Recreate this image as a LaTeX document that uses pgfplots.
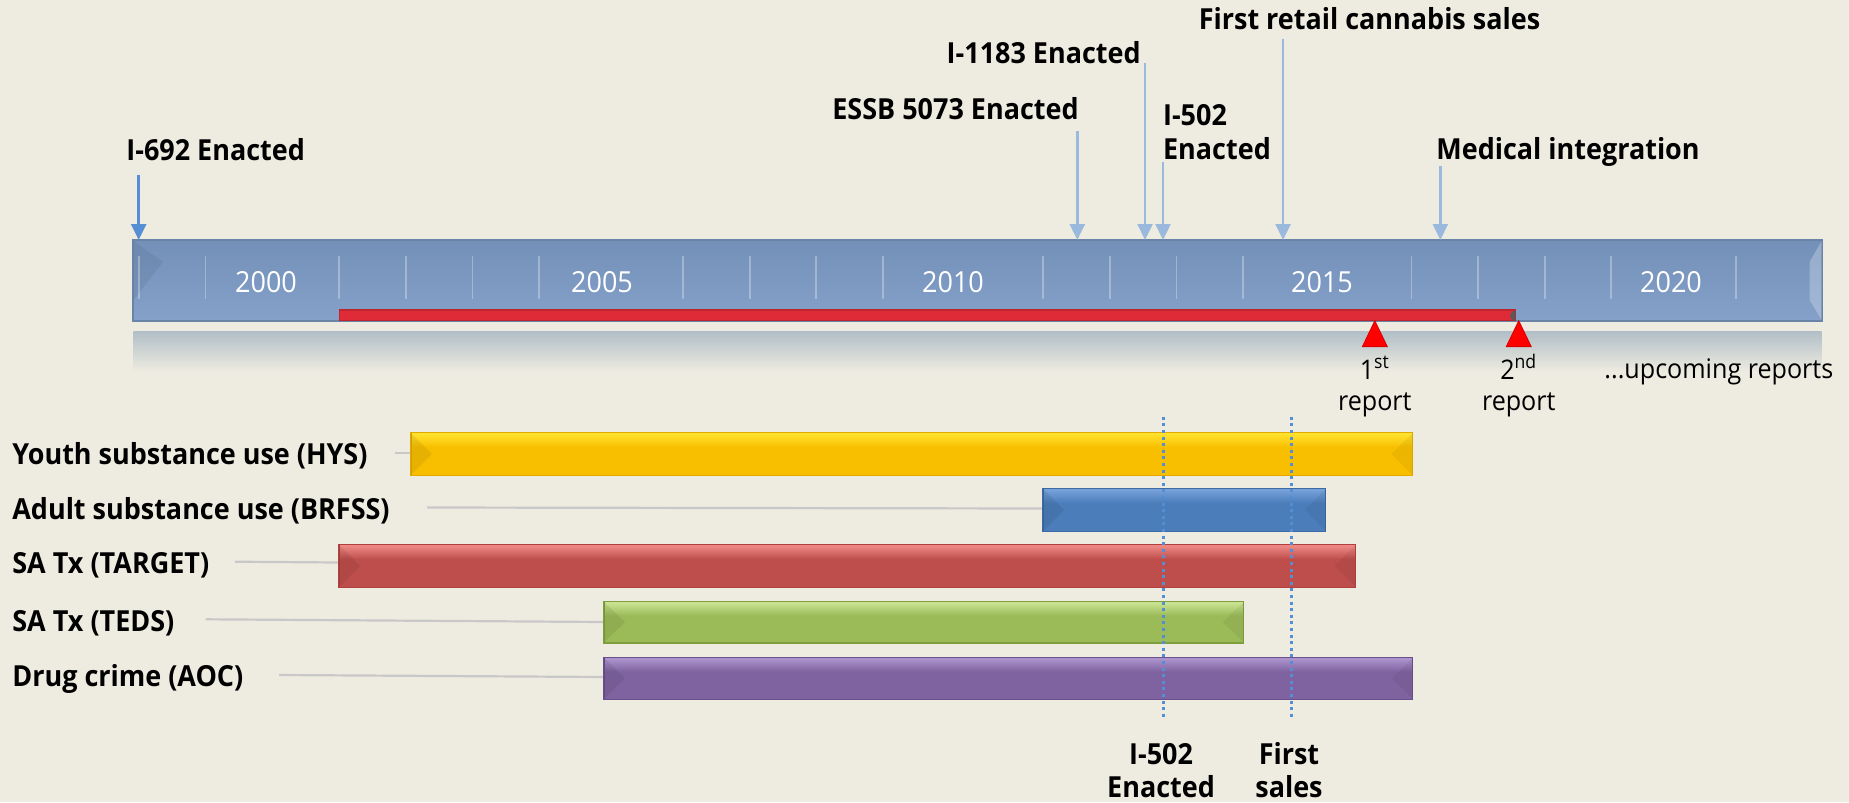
\documentclass[border=0pt]{standalone}
\usepackage{fontspec}
\setmainfont{Open Sans}[FakeStretch=0.93]
\usepackage{pgfplots}
\pgfplotsset{compat=1.18}
\usetikzlibrary{arrows.meta}

\definecolor{bgcol}{HTML}{EEECE1}
\definecolor{tltop}{HTML}{7390B8}
\definecolor{tlbot}{HTML}{85A1C9}
\definecolor{tledge}{HTML}{6A84A8}
\definecolor{reftop}{HTML}{B2BFC7}
\definecolor{redline}{HTML}{DE2B37}
\definecolor{evarrow}{HTML}{9BB9DC}
\definecolor{evdark}{HTML}{558ED5}
\definecolor{conn}{HTML}{C8C8C8}
\definecolor{dotcol}{HTML}{558ED5}
% bar colours: body, highlight, edge
\definecolor{hysB}{HTML}{F8BF00}\definecolor{hysL}{HTML}{FFE12E}\definecolor{hysE}{HTML}{E2AA00}
\definecolor{brfB}{HTML}{4B7DBB}\definecolor{brfL}{HTML}{75A0D8}\definecolor{brfE}{HTML}{3D6AA3}
\definecolor{tgtB}{HTML}{BE4E4B}\definecolor{tgtL}{HTML}{EC8784}\definecolor{tgtE}{HTML}{B2403D}
\definecolor{tedB}{HTML}{9BBB59}\definecolor{tedL}{HTML}{C8E290}\definecolor{tedE}{HTML}{7F9F3E}
\definecolor{aocB}{HTML}{7F63A0}\definecolor{aocL}{HTML}{AA92CC}\definecolor{aocE}{HTML}{6A4F8D}

\pgfdeclareverticalshading{hysS}{100bp}{color(0bp)=(hysB); color(58bp)=(hysB); color(73bp)=(hysL); color(100bp)=(hysL)}
\pgfdeclareverticalshading{brfS}{100bp}{color(0bp)=(brfB); color(58bp)=(brfB); color(73bp)=(brfL); color(100bp)=(brfL)}
\pgfdeclareverticalshading{tgtS}{100bp}{color(0bp)=(tgtB); color(58bp)=(tgtB); color(73bp)=(tgtL); color(100bp)=(tgtL)}
\pgfdeclareverticalshading{tedS}{100bp}{color(0bp)=(tedB); color(58bp)=(tedB); color(73bp)=(tedL); color(100bp)=(tedL)}
\pgfdeclareverticalshading{aocS}{100bp}{color(0bp)=(aocB); color(58bp)=(aocB); color(73bp)=(aocL); color(100bp)=(aocL)}

\newcommand\lbl{\fontsize{14.5}{17}\selectfont\bfseries}
\newcommand\yr{\fontsize{14.5}{17}\selectfont}
\newcommand\rep{\fontsize{13.5}{16}\selectfont}
% bevel facets at both ends of a bar: start, end, top, bottom
\newcommand\bevel[4]{%
  \fill[black, opacity=0.07] (axis cs:#1,#3) -- (axis cs:#1+0.3,#3/2+#4/2) -- (axis cs:#1,#4) -- cycle;
  \fill[black, opacity=0.05] (axis cs:#2,#3) -- (axis cs:#2-0.3,#3/2+#4/2) -- (axis cs:#2,#4) -- cycle;}

\begin{document}
\begin{tikzpicture}[every node/.style={inner sep=0pt}]
\begin{axis}[
    scale only axis,
    width=924.5pt, height=401pt,
    xmin=1996.2, xmax=2022.614,
    ymin=0, ymax=802, y dir=reverse,
    axis lines=none, xtick=\empty, ytick=\empty,
    clip=false,
    evt/.style={mark=none, evarrow, line width=1.2pt, -{Triangle[width=7.5pt,length=8pt]}},
]
% background
\fill[bgcol] (rel axis cs:0,0) rectangle (rel axis cs:1,1);

% timeline bar and its reflection
\fill[top color=reftop, bottom color=bgcol] (axis cs:1998.104,331.7) rectangle (axis cs:2022.224,372);
\addplot[mark=none, draw=tledge, line width=0.8pt, top color=tltop, bottom color=tlbot]
    coordinates {(1998.104,240) (2022.224,240) (2022.224,320.7) (1998.104,320.7)} -- cycle;
\fill[tltop!80!black, opacity=0.25] (axis cs:1998.104,241) -- (axis cs:1998.53,262) -- (axis cs:1998.104,300) -- cycle;
\fill[white, opacity=0.25] (axis cs:2022.224,241) -- (axis cs:2022.05,262) -- (axis cs:2022.05,300) -- (axis cs:2022.224,320) -- cycle;

% year dividers
\pgfplotsinvokeforeach{1998.186,1999.136,2001.047,2001.999,2002.949,2003.900,2005.957,2006.910,2007.857,2008.811,2011.100,2012.057,2013.007,2013.957,2016.364,2017.314,2018.266,2019.214,2021.000}{
  \addplot[mark=none, white, opacity=0.3, line width=0.9pt] coordinates {(#1,256) (#1,299)};
}
\node[anchor=base, white, font=\yr] at (axis cs:2000.0,292.7) {2000};
\node[anchor=base, white, font=\yr] at (axis cs:2004.8,292.7) {2005};
\node[anchor=base, white, font=\yr] at (axis cs:2009.814,292.7) {2010};
\node[anchor=base, white, font=\yr] at (axis cs:2015.086,292.7) {2015};
\node[anchor=base, white, font=\yr] at (axis cs:2020.071,292.7) {2020};

% study period and reports
\addplot[mark=none, draw=redline!85!black, line width=0.6pt, fill=redline]
    coordinates {(2001.047,310) (2017.847,310) (2017.847,320.7) (2001.047,320.7)} -- cycle;
\fill[black!65] (axis cs:2017.847,310.5) arc[start angle=90, end angle=270, radius=2.6pt] -- cycle;
\addplot[only marks, mark=triangle*, mark size=7.2pt,
    mark options={fill=red, draw=red!85!black, yscale=1.2}]
    coordinates {(2015.84,338) (2017.896,338)};
\node[anchor=base, font=\rep] at (axis cs:2015.84,379.3) {1\textsuperscript{st}};
\node[anchor=base, font=\rep] at (axis cs:2015.84,410) {report};
\node[anchor=base, font=\rep] at (axis cs:2017.896,379.3) {2\textsuperscript{nd}};
\node[anchor=base, font=\rep] at (axis cs:2017.896,410) {report};
\node[anchor=base west, font=\rep] at (axis cs:2019.114,378) {...upcoming reports};

% policy events
\addplot[evt, evdark] coordinates {(1998.181,175) (1998.181,240)};
\addplot[evt] coordinates {(2011.590,131) (2011.590,240)};
\addplot[evt] coordinates {(2012.557,63.3) (2012.557,240)};
\addplot[evt] coordinates {(2012.814,161.7) (2012.814,240)};
\addplot[evt] coordinates {(2014.529,39) (2014.529,240)};
\addplot[evt] coordinates {(2016.776,165.7) (2016.776,240)};
\node[anchor=base west, font=\lbl] at (axis cs:1998.0,160.7) {I-692 Enacted};
\node[anchor=base east, font=\lbl] at (axis cs:2011.614,120) {ESSB 5073 Enacted};
\node[anchor=base east, font=\lbl] at (axis cs:2012.5,63.3) {I-1183 Enacted};
\node[anchor=base west, font=\lbl] at (axis cs:2012.81,126) {I-502};
\node[anchor=base west, font=\lbl] at (axis cs:2012.81,160) {Enacted};
\node[anchor=base west, font=\lbl] at (axis cs:2013.32,30) {First retail cannabis sales};
\node[anchor=base west, font=\lbl] at (axis cs:2016.714,160) {Medical integration};

% leader lines from the data source labels
\addplot[mark=none, conn, line width=1.1pt] coordinates {(2001.843,453.3) (2002.071,453.3)};
\addplot[mark=none, conn, line width=1.1pt] coordinates {(2002.300,507.5) (2011.100,508.5)};
\addplot[mark=none, conn, line width=1.1pt] coordinates {(1999.557,561.7) (2001.043,562.5)};
\addplot[mark=none, conn, line width=1.1pt] coordinates {(1999.139,619.3) (2004.829,622)};
\addplot[mark=none, conn, line width=1.1pt] coordinates {(2000.186,675) (2004.829,677)};

% data coverage bars
\addplot[mark=none, draw=hysE, line width=0.6pt, shade, shading=hysS]
    coordinates {(2002.071,432.3) (2016.381,432.3) (2016.381,475.7) (2002.071,475.7)} -- cycle;
\addplot[mark=none, draw=brfE, line width=0.6pt, shade, shading=brfS]
    coordinates {(2011.100,488.3) (2015.139,488.3) (2015.139,531.7) (2011.100,531.7)} -- cycle;
\addplot[mark=none, draw=tgtE, line width=0.6pt, shade, shading=tgtS]
    coordinates {(2001.043,544.3) (2015.567,544.3) (2015.567,587.7) (2001.043,587.7)} -- cycle;
\addplot[mark=none, draw=tedE, line width=0.6pt, shade, shading=tedS]
    coordinates {(2004.829,601.3) (2013.967,601.3) (2013.967,643) (2004.829,643)} -- cycle;
\addplot[mark=none, draw=aocE, line width=0.6pt, shade, shading=aocS]
    coordinates {(2004.829,657.3) (2016.381,657.3) (2016.381,699.3) (2004.829,699.3)} -- cycle;
\bevel{2002.071}{2016.381}{433}{475}
\bevel{2011.100}{2015.139}{489}{531}
\bevel{2001.043}{2015.567}{545}{587}
\bevel{2004.829}{2013.967}{602}{642.3}
\bevel{2004.829}{2016.381}{658}{698.6}

\node[anchor=base west, font=\lbl] at (axis cs:1996.371,464.3) {Youth substance use (HYS)};
\node[anchor=base west, font=\lbl] at (axis cs:1996.371,519) {Adult substance use (BRFSS)};
\node[anchor=base west, font=\lbl] at (axis cs:1996.371,573.3) {SA Tx (TARGET)};
\node[anchor=base west, font=\lbl] at (axis cs:1996.371,631) {SA Tx (TEDS)};
\node[anchor=base west, font=\lbl] at (axis cs:1996.371,686.7) {Drug crime (AOC)};

% reference lines for I-502 and first sales
\addplot[mark=none, dotcol, line width=1.5pt, dash pattern=on 1.5pt off 1.8pt] coordinates {(2012.814,416.7) (2012.814,718)};
\addplot[mark=none, dotcol, line width=1.5pt, dash pattern=on 1.5pt off 1.8pt] coordinates {(2014.643,416.7) (2014.643,718)};
\node[anchor=base, font=\lbl] at (axis cs:2012.786,764) {I-502};
\node[anchor=base, font=\lbl] at (axis cs:2012.786,797) {Enacted};
\node[anchor=base, font=\lbl] at (axis cs:2014.614,764) {First};
\node[anchor=base, font=\lbl] at (axis cs:2014.614,797) {sales};
\end{axis}
\pgfresetboundingbox
\path (current axis.south west) rectangle (current axis.north east);
\end{tikzpicture}
\end{document}
